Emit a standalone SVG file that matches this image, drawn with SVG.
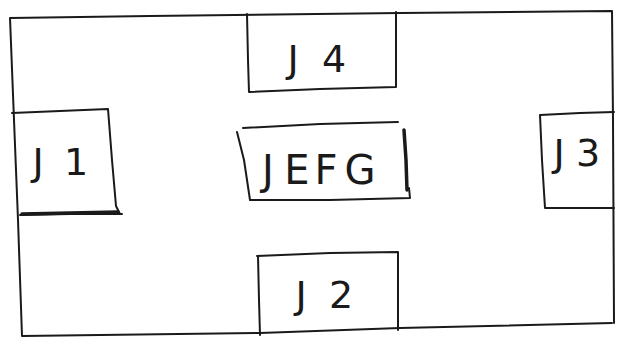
<svg xmlns="http://www.w3.org/2000/svg" width="617" height="339" viewBox="0 0 617 339">
<style>
.ln{fill:none;stroke:#1a1a1a;stroke-width:2;stroke-linecap:round;stroke-linejoin:round}
.thick{stroke-width:3.5}
.lbl{font-family:"DejaVu Sans","Liberation Sans",sans-serif;font-size:38px;fill:#1a1a1a;text-anchor:middle;font-weight:normal}
</style>
<rect width="617" height="339" fill="#ffffff"/>
<g id="outer">
<path class="ln" d="M10,18 L150,16 L400,13 L612,11 M10,18 L14,120 L18,220 L22,336 M22,336 L260,333 L400,328 L612,323 M612,11 L613,120 L614,323"/>
</g>
<g id="J4">
<path class="ln" d="M247,14 L248,60 L249,92 L320,89 L396,87 L396,50 L396,12"/>
<text class="lbl" x="293 334" y="72">J4</text>
</g>
<g id="J1">
<path class="ln" d="M12,113 L60,111 L108,109 L112,160 L116,206 L120,214 M20,215 L70,214 L122,214"/>
<path class="ln thick" d="M22,214 L118,212"/>
<text class="lbl" x="38 76" y="175">J1</text>
</g>
<g id="JEFG">
<path class="ln" d="M243,128 L320,124 L398,122 M237,132 L244,160 L250,200 L330,200 L410,198 L409,188"/>
<path class="ln thick" d="M404,130 L406,160 L407,190"/>
<text class="lbl" x="268 297 326 360" y="184" style="font-size:40px">JEFG</text>
</g>
<g id="J3">
<path class="ln" d="M540,115 L580,113 L614,112 M540,115 L542,160 L545,208 L614,208"/>
<text class="lbl" x="559 588" y="166">J3</text>
</g>
<g id="J2">
<path class="ln" d="M257,256 L330,253 L398,252 L398,300 L398,330 M258,256 L259,300 L260,335"/>
<text class="lbl" x="301 341" y="308">J2</text>
</g>
<g id="connectors"/>
</svg>
